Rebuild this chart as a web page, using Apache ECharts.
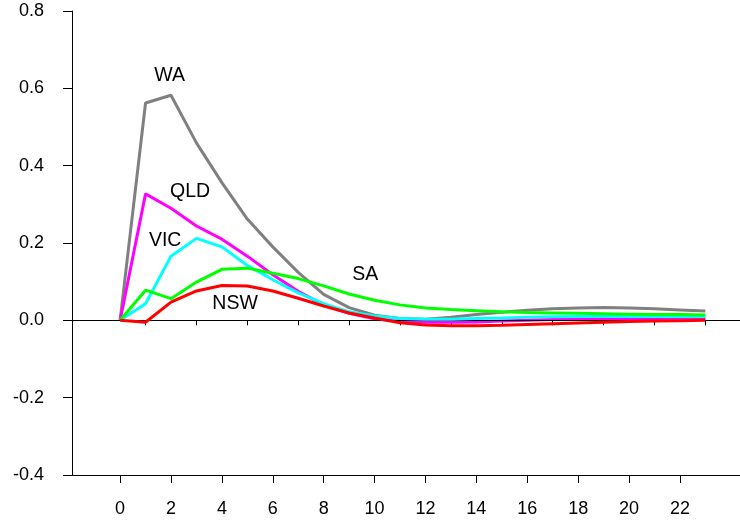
<!DOCTYPE html>
<html>
<head>
<meta charset="utf-8">
<script src="https://cdn.jsdelivr.net/npm/echarts@6/dist/echarts.min.js"></script>
<style>
html,body{margin:0;padding:0;background:#fff;}
#chart{width:740px;height:525px;}
</style>
</head>
<body>
<div id="chart"></div>
<script>
const steps = [0,1,2,3,4,5,6,7,8,9,10,11,12,13,14,15,16,17,18,19,20,21,22,23];
const xTickLabels = [0,2,4,6,8,10,12,14,16,18,20,22];
const minorTicks = [1,3,5,7,9,11,13,15,17,19,21,23];

const WA  = [0, 0.562, 0.582, 0.459, 0.356, 0.262, 0.19, 0.124, 0.067, 0.033, 0.013, 0.005, 0.003, 0.008, 0.015, 0.021, 0.026, 0.030, 0.032, 0.033, 0.032, 0.030, 0.027, 0.024];
const QLD = [0, 0.327, 0.29, 0.244, 0.21, 0.166, 0.118, 0.075, 0.04, 0.018, 0.004, -0.003, -0.005, -0.005, -0.004, -0.002, 0.0, 0.002, 0.003, 0.004, 0.005, 0.005, 0.006, 0.006];
const VIC = [0, 0.043, 0.166, 0.212, 0.19, 0.142, 0.105, 0.071, 0.043, 0.022, 0.011, 0.005, 0.003, 0.003, 0.005, 0.006, 0.008, 0.009, 0.01, 0.01, 0.01, 0.01, 0.01, 0.01];
const SA  = [0, 0.078, 0.056, 0.099, 0.132, 0.135, 0.122, 0.108, 0.089, 0.068, 0.052, 0.04, 0.032, 0.028, 0.025, 0.022, 0.02, 0.019, 0.018, 0.017, 0.016, 0.015, 0.015, 0.014];
const NSW = [0, -0.005, 0.047, 0.076, 0.09, 0.089, 0.076, 0.057, 0.037, 0.019, 0.006, -0.006, -0.012, -0.014, -0.014, -0.013, -0.011, -0.009, -0.007, -0.005, -0.003, -0.002, -0.001, 0.0];

const seriesNames = ['WA','QLD','VIC','SA','NSW'];
const seriesValues = [WA, QLD, VIC, SA, NSW];
const seriesColors = ['#808080','#ff00ff','#00ffff','#00ff00','#ff0000'];
// label anchor positions in data coordinates
const labelPos = [[1.95,0.633],[2.75,0.334],[1.77,0.205],[9.63,0.117],[4.52,0.042]];

const font = 'Liberation Sans, Arial, sans-serif';
const chart = echarts.init(document.getElementById('chart'));

const series = seriesNames.map((name, k) => ({
  name: name,
  type: 'line',
  data: steps.map((s, i) => [s, seriesValues[k][i]]),
  showSymbol: false,
  symbol: 'none',
  lineStyle: {color: seriesColors[k], width: 3},
  itemStyle: {color: seriesColors[k]},
  z: 3 + k,
  animation: false,
  markPoint: {
    symbol: 'circle', symbolSize: 0,
    silent: true,
    data: [{coord: labelPos[k], value: name}],
    label: {show: true, position: 'inside', formatter: name, color: '#000', fontSize: 19.5, fontFamily: font}
  }
}));

series.push({
  type: 'line', data: [], silent: true, z: 2,
  markLine: {
    symbol: 'none', silent: true, animation: false,
    lineStyle: {color: '#000', width: 1, type: 'solid'},
    label: {show: false},
    data: [{yAxis: 0}]
  }
});

const xMin = -1.89, xMax = 24.36;

chart.setOption({
  animation: false,
  backgroundColor: '#fff',
  grid: {left: 72, right: 0, top: 11, bottom: 50, containLabel: false},
  xAxis: [{
    type: 'value', min: xMin, max: xMax,
    splitLine: {show: false},
    axisLine: {show: true, onZero: false, lineStyle: {color: '#000', width: 1}},
    axisTick: {show: true, length: 8, customValues: xTickLabels, lineStyle: {color: '#000'}},
    axisLabel: {show: true, customValues: xTickLabels, color: '#000', fontSize: 18, fontFamily: font, margin: 25}
  },{
    type: 'value', min: xMin, max: xMax, position: 'bottom',
    splitLine: {show: false},
    axisLine: {show: false},
    axisTick: {show: true, length: 5, customValues: minorTicks, lineStyle: {color: '#000'}},
    axisLabel: {show: false}
  }],
  yAxis: {
    type: 'value', min: -0.4, max: 0.8, interval: 0.2,
    splitLine: {show: false},
    axisLine: {show: true, onZero: false, lineStyle: {color: '#000', width: 1}},
    axisTick: {show: true, length: 9, lineStyle: {color: '#000'}},
    axisLabel: {color: '#000', fontSize: 18, fontFamily: font, margin: 28, padding: [5,0,0,0],
      formatter: v => v.toFixed(1)}
  },
  series: series
});
</script>
</body>
</html>
